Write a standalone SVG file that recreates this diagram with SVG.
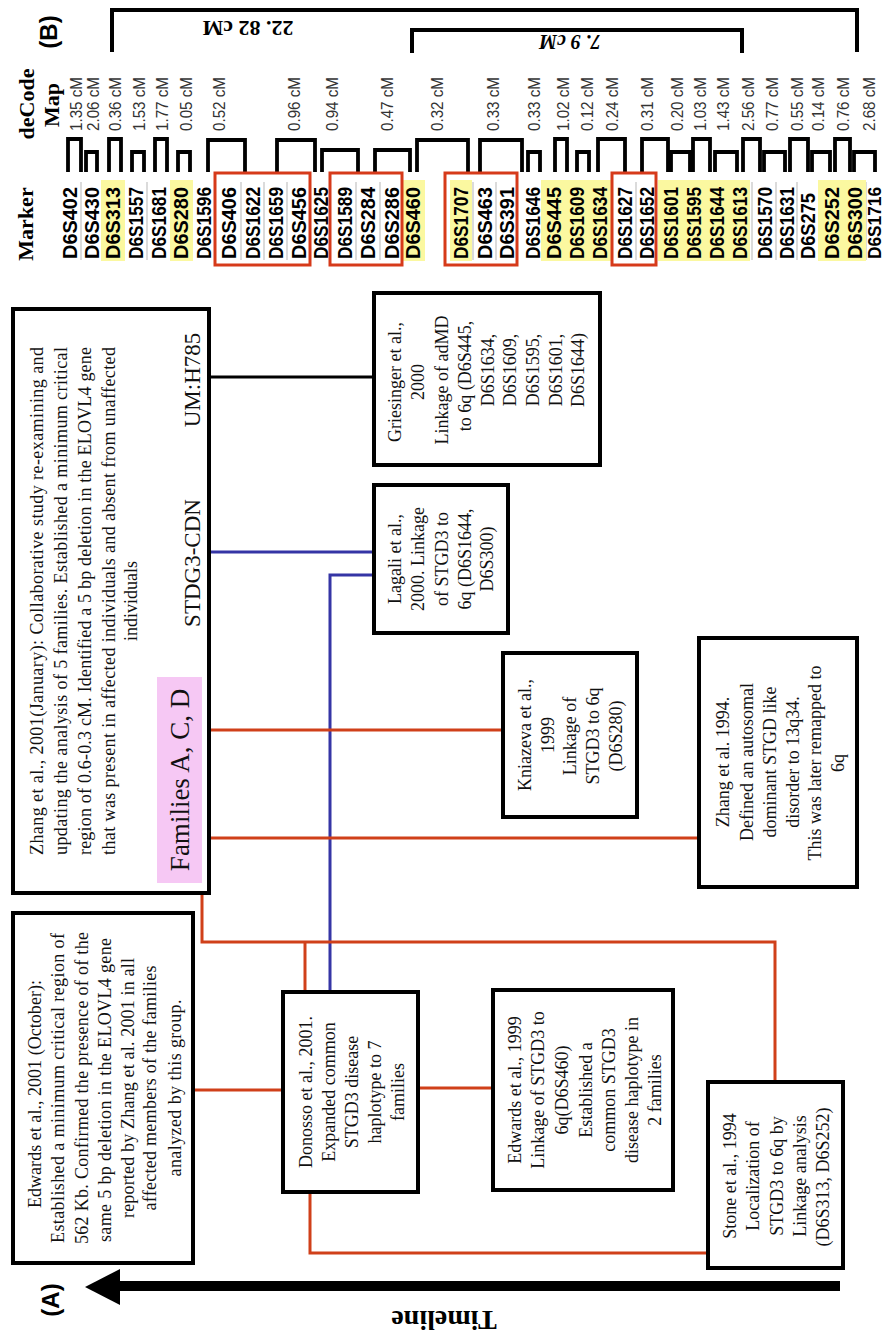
<svg xmlns="http://www.w3.org/2000/svg" width="885" height="1339" viewBox="0 0 885 1339">
<style>
.box{fill:#fff;stroke:#000;stroke-width:4}
.t{font-family:"Liberation Serif","Times New Roman",serif;font-size:18px;fill:#111;text-anchor:middle;dominant-baseline:central}
.big{font-family:"Liberation Serif","Times New Roman",serif;font-size:23px;fill:#111;text-anchor:middle;dominant-baseline:central}
.hd{font-family:"Liberation Serif","Times New Roman",serif;font-weight:bold;font-size:22px;fill:#000;text-anchor:middle;dominant-baseline:central}
.lab{font-family:"Liberation Sans",Arial,sans-serif;font-weight:bold;font-size:24px;fill:#000;text-anchor:middle;dominant-baseline:central}
.mk{font-family:"Liberation Sans Narrow","Liberation Sans",Arial,sans-serif;font-weight:bold;font-size:20px;fill:#000;dominant-baseline:central}
.cm{font-family:"Liberation Sans Narrow","Liberation Sans",Arial,sans-serif;font-size:16px;fill:#333;dominant-baseline:central}
.red{stroke:#d0401a;stroke-width:3;fill:none}
.blue{stroke:#3535a5;stroke-width:3;fill:none}
.blk{stroke:#000;stroke-width:3;fill:none}
.bump{stroke:#000;stroke-width:3.8;fill:none}
.brk{stroke:#000;stroke-width:4;fill:none}
.hl{fill:#fbf8a0}
.rb{fill:none;stroke:#d63a1a;stroke-width:3}
.sep{stroke:#c4c4c4;stroke-width:1.2}
</style>
<rect width="885" height="1339" fill="#fff"/>

<g id="header">
<text class="lab" transform="translate(48,32) rotate(-90)">(B)</text>
<text class="hd" transform="translate(26,104) rotate(-90)">deCode</text>
<text class="hd" transform="translate(51,105) rotate(-90)">Map</text>
<text class="hd" transform="translate(25,224) rotate(-90)">Marker</text>
<path class="brk" d="M112 52V10H857V52"/>
<path class="brk" d="M412 53V30H742V53"/>
<text class="hd" transform="translate(248,28) rotate(180)">22. 82 cM</text>
<text class="hd" style="font-style:italic;font-size:20px" transform="translate(570,42) rotate(180)">7. 9 cM</text>
</g>

<g id="decode-map">
<g id="separators">
<path class="sep" d="M81 182V260M102 182V260M147 182V260M192 182V260M241 182V260M264 182V260M287 182V260M356 182V260M380 182V260M473 182V260M496 182V260M543 182V260M636 182V260M752 182V260M776 182V260M797 182V260M866 182V260"/>
</g>
<g id="highlights">
<rect class="hl" x="101" y="180" width="24" height="81"/>
<rect class="hl" x="170" y="180" width="23" height="81"/>
<rect class="hl" x="402" y="180" width="23" height="81"/>
<rect class="hl" x="450" y="180" width="22" height="81"/>
<rect class="hl" x="541" y="180" width="71" height="81"/>
<rect class="hl" x="658" y="180" width="92" height="81"/>
<rect class="hl" x="818" y="180" width="48" height="81"/>
</g>
<path class="bump" d="M68 172V139H81V172M86 172V152H97V172M109 172V139H121V172M132 172V152H144V172M155 172V139H167V172M178 172V152H190V172M208 172V140H245V172M277 172V140H315V172M322 172V150H358V172M375 172V150H410V172M417 172V140H468V172M480 172V140H522V172M528 172V152H540V172M555 172V139H567V172M577 172V152H589V172M598 172V139H625V172M642 172V139H668V172M671 172V152H690V172M693 172V139H710V172M715 172V152H737V172M743 172V139H760V172M764 172V152H785V172M790 172V139H808V172M812 172V152H830V172M835 172V139H850V172M854 172V152H875V172"/>
<g id="cm-labels">
<text class="cm" textLength="54" lengthAdjust="spacingAndGlyphs" transform="translate(76,131) rotate(-90)">1.35 cM</text>
<text class="cm" textLength="54" lengthAdjust="spacingAndGlyphs" transform="translate(93,131) rotate(-90)">2.06 cM</text>
<text class="cm" textLength="54" lengthAdjust="spacingAndGlyphs" transform="translate(115,131) rotate(-90)">0.36 cM</text>
<text class="cm" textLength="54" lengthAdjust="spacingAndGlyphs" transform="translate(139,131) rotate(-90)">1.53 cM</text>
<text class="cm" textLength="54" lengthAdjust="spacingAndGlyphs" transform="translate(162,131) rotate(-90)">1.77 cM</text>
<text class="cm" textLength="54" lengthAdjust="spacingAndGlyphs" transform="translate(186,131) rotate(-90)">0.05 cM</text>
<text class="cm" textLength="54" lengthAdjust="spacingAndGlyphs" transform="translate(219,131) rotate(-90)">0.52 cM</text>
<text class="cm" textLength="54" lengthAdjust="spacingAndGlyphs" transform="translate(294,131) rotate(-90)">0.96 cM</text>
<text class="cm" textLength="54" lengthAdjust="spacingAndGlyphs" transform="translate(332,131) rotate(-90)">0.94 cM</text>
<text class="cm" textLength="54" lengthAdjust="spacingAndGlyphs" transform="translate(387,131) rotate(-90)">0.47 cM</text>
<text class="cm" textLength="54" lengthAdjust="spacingAndGlyphs" transform="translate(437,131) rotate(-90)">0.32 cM</text>
<text class="cm" textLength="54" lengthAdjust="spacingAndGlyphs" transform="translate(493,131) rotate(-90)">0.33 cM</text>
<text class="cm" textLength="54" lengthAdjust="spacingAndGlyphs" transform="translate(534,131) rotate(-90)">0.33 cM</text>
<text class="cm" textLength="54" lengthAdjust="spacingAndGlyphs" transform="translate(563,131) rotate(-90)">1.02 cM</text>
<text class="cm" textLength="54" lengthAdjust="spacingAndGlyphs" transform="translate(587,131) rotate(-90)">0.12 cM</text>
<text class="cm" textLength="54" lengthAdjust="spacingAndGlyphs" transform="translate(612,131) rotate(-90)">0.24 cM</text>
<text class="cm" textLength="54" lengthAdjust="spacingAndGlyphs" transform="translate(647,131) rotate(-90)">0.31 cM</text>
<text class="cm" textLength="54" lengthAdjust="spacingAndGlyphs" transform="translate(677,131) rotate(-90)">0.20 cM</text>
<text class="cm" textLength="54" lengthAdjust="spacingAndGlyphs" transform="translate(700,131) rotate(-90)">1.03 cM</text>
<text class="cm" textLength="54" lengthAdjust="spacingAndGlyphs" transform="translate(723,131) rotate(-90)">1.43 cM</text>
<text class="cm" textLength="54" lengthAdjust="spacingAndGlyphs" transform="translate(748,131) rotate(-90)">2.56 cM</text>
<text class="cm" textLength="54" lengthAdjust="spacingAndGlyphs" transform="translate(772,131) rotate(-90)">0.77 cM</text>
<text class="cm" textLength="54" lengthAdjust="spacingAndGlyphs" transform="translate(797,131) rotate(-90)">0.55 cM</text>
<text class="cm" textLength="54" lengthAdjust="spacingAndGlyphs" transform="translate(818,131) rotate(-90)">0.14 cM</text>
<text class="cm" textLength="54" lengthAdjust="spacingAndGlyphs" transform="translate(843,131) rotate(-90)">0.76 cM</text>
<text class="cm" textLength="54" lengthAdjust="spacingAndGlyphs" transform="translate(869,131) rotate(-90)">2.68 cM</text>
</g>
<g id="markers">
<text class="mk" textLength="72" lengthAdjust="spacingAndGlyphs" transform="translate(70,259) rotate(-90)">D6S402</text>
<text class="mk" textLength="72" lengthAdjust="spacingAndGlyphs" transform="translate(92,259) rotate(-90)">D6S430</text>
<text class="mk" textLength="72" lengthAdjust="spacingAndGlyphs" transform="translate(113,259) rotate(-90)">D6S313</text>
<text class="mk" textLength="72" lengthAdjust="spacingAndGlyphs" transform="translate(136,259) rotate(-90)">D6S1557</text>
<text class="mk" textLength="72" lengthAdjust="spacingAndGlyphs" transform="translate(159,259) rotate(-90)">D6S1681</text>
<text class="mk" textLength="72" lengthAdjust="spacingAndGlyphs" transform="translate(181,259) rotate(-90)">D6S280</text>
<text class="mk" textLength="72" lengthAdjust="spacingAndGlyphs" transform="translate(204,259) rotate(-90)">D6S1596</text>
<text class="mk" textLength="72" lengthAdjust="spacingAndGlyphs" transform="translate(229,259) rotate(-90)">D6S406</text>
<text class="mk" textLength="72" lengthAdjust="spacingAndGlyphs" transform="translate(253,259) rotate(-90)">D6S1622</text>
<text class="mk" textLength="72" lengthAdjust="spacingAndGlyphs" transform="translate(276,259) rotate(-90)">D6S1659</text>
<text class="mk" textLength="72" lengthAdjust="spacingAndGlyphs" transform="translate(299,259) rotate(-90)">D6S456</text>
<text class="mk" textLength="72" lengthAdjust="spacingAndGlyphs" transform="translate(321,259) rotate(-90)">D6S1625</text>
<text class="mk" textLength="72" lengthAdjust="spacingAndGlyphs" transform="translate(345,259) rotate(-90)">D6S1589</text>
<text class="mk" textLength="72" lengthAdjust="spacingAndGlyphs" transform="translate(368,259) rotate(-90)">D6S284</text>
<text class="mk" textLength="72" lengthAdjust="spacingAndGlyphs" transform="translate(392,259) rotate(-90)">D6S286</text>
<text class="mk" textLength="72" lengthAdjust="spacingAndGlyphs" transform="translate(413,259) rotate(-90)">D6S460</text>
<text class="mk" textLength="72" lengthAdjust="spacingAndGlyphs" transform="translate(461,259) rotate(-90)">D6S1707</text>
<text class="mk" textLength="72" lengthAdjust="spacingAndGlyphs" transform="translate(485,259) rotate(-90)">D6S463</text>
<text class="mk" textLength="72" lengthAdjust="spacingAndGlyphs" transform="translate(507,259) rotate(-90)">D6S391</text>
<text class="mk" textLength="72" lengthAdjust="spacingAndGlyphs" transform="translate(533,259) rotate(-90)">D6S1646</text>
<text class="mk" textLength="72" lengthAdjust="spacingAndGlyphs" transform="translate(554,259) rotate(-90)">D6S445</text>
<text class="mk" textLength="72" lengthAdjust="spacingAndGlyphs" transform="translate(577,259) rotate(-90)">D6S1609</text>
<text class="mk" textLength="72" lengthAdjust="spacingAndGlyphs" transform="translate(600,259) rotate(-90)">D6S1634</text>
<text class="mk" textLength="72" lengthAdjust="spacingAndGlyphs" transform="translate(625,259) rotate(-90)">D6S1627</text>
<text class="mk" textLength="72" lengthAdjust="spacingAndGlyphs" transform="translate(647,259) rotate(-90)">D6S1652</text>
<text class="mk" textLength="72" lengthAdjust="spacingAndGlyphs" transform="translate(671,259) rotate(-90)">D6S1601</text>
<text class="mk" textLength="72" lengthAdjust="spacingAndGlyphs" transform="translate(694,259) rotate(-90)">D6S1595</text>
<text class="mk" textLength="72" lengthAdjust="spacingAndGlyphs" transform="translate(717,259) rotate(-90)">D6S1644</text>
<text class="mk" textLength="72" lengthAdjust="spacingAndGlyphs" transform="translate(740,259) rotate(-90)">D6S1613</text>
<text class="mk" textLength="72" lengthAdjust="spacingAndGlyphs" transform="translate(765,259) rotate(-90)">D6S1570</text>
<text class="mk" textLength="72" lengthAdjust="spacingAndGlyphs" transform="translate(787,259) rotate(-90)">D6S1631</text>
<text class="mk" textLength="66" lengthAdjust="spacingAndGlyphs" transform="translate(808,259) rotate(-90)">D6S275</text>
<text class="mk" textLength="72" lengthAdjust="spacingAndGlyphs" transform="translate(832,259) rotate(-90)">D6S252</text>
<text class="mk" textLength="72" lengthAdjust="spacingAndGlyphs" transform="translate(855,259) rotate(-90)">D6S300</text>
<text class="mk" style="font-size:18px" textLength="72" lengthAdjust="spacingAndGlyphs" transform="translate(875,259) rotate(-90)">D6S1716</text>
</g>
<g id="marker-groups">
<rect class="rb" x="215" y="173" width="95" height="92"/>
<rect class="rb" x="330" y="173" width="72" height="92"/>
<rect class="rb" x="445" y="173" width="72" height="92"/>
<rect class="rb" x="612" y="173" width="44" height="92"/>
</g>
</g>

<g id="connectors">
<path class="blk" d="M209 377H374"/>
<path class="blue" d="M209 552H374"/>
<path class="blue" d="M374 575H330V992"/>
<path class="red" d="M209 730H503"/>
<path class="red" d="M209 838H699"/>
<path class="red" d="M202 893V942H775V1082"/>
<path class="red" d="M305 942V992"/>
<path class="red" d="M193 1090H283"/>
<path class="red" d="M418 1088H493"/>
<path class="red" d="M310 1192V1253H708"/>
</g>

<g id="zhang2001">
<rect class="box" x="13" y="309" width="196" height="584"/>
<rect x="157" y="677" width="45" height="206" fill="#f6c8f4"/>
<text class="t" textLength="508" transform="translate(37,601) rotate(-90)">Zhang et al., 2001(January): Collaborative study re-examining and</text>
<text class="t" textLength="508" transform="translate(61,601) rotate(-90)">updating the analysis of 5 families. Established a minimum critical</text>
<text class="t" textLength="508" transform="translate(85,601) rotate(-90)">region of 0.6-0.3 cM. Identified a 5 bp deletion in the ELOVL4 gene</text>
<text class="t" textLength="508" transform="translate(109,601) rotate(-90)">that was present in affected individuals and absent from unaffected</text>
<text class="t" transform="translate(131,601) rotate(-90)">individuals</text>
<text class="big" style="font-size:27px" transform="translate(180,780) rotate(-90)">Families A, C, D</text>
<text class="big" transform="translate(192,563) rotate(-90)">STDG3-CDN</text>
<text class="big" transform="translate(192,380) rotate(-90)">UM:H785</text>
</g>

<g id="griesinger2000">
<rect class="box" x="374" y="293" width="226" height="172"/>
<text class="t" transform="translate(395,382) rotate(-90)">Griesinger et al.,</text>
<text class="t" transform="translate(418,382) rotate(-90)">2000</text>
<text class="t" transform="translate(442,380) rotate(-90)">Linkage of adMD</text>
<text class="t" transform="translate(465,376) rotate(-90)">to 6q (D6S445,</text>
<text class="t" transform="translate(488,370) rotate(-90)">D6S1634,</text>
<text class="t" transform="translate(510,370) rotate(-90)">D6S1609,</text>
<text class="t" transform="translate(533,370) rotate(-90)">D6S1595,</text>
<text class="t" transform="translate(556,370) rotate(-90)">D6S1601,</text>
<text class="t" transform="translate(578,370) rotate(-90)">D6S1644)</text>
</g>

<g id="lagali2000">
<rect class="box" x="374" y="485" width="134" height="148"/>
<text class="t" transform="translate(395,559) rotate(-90)">Lagali et al.,</text>
<text class="t" transform="translate(418,559) rotate(-90)">2000. Linkage</text>
<text class="t" transform="translate(442,559) rotate(-90)">of STGD3 to</text>
<text class="t" transform="translate(465,559) rotate(-90)">6q (D6S1644,</text>
<text class="t" transform="translate(487,559) rotate(-90)">D6S300)</text>
</g>

<g id="kniazeva1999">
<rect class="box" x="503" y="653" width="134" height="164"/>
<text class="t" transform="translate(525,735) rotate(-90)">Kniazeva et al.,</text>
<text class="t" transform="translate(548,735) rotate(-90)">1999</text>
<text class="t" transform="translate(570,736) rotate(-90)">Linkage of</text>
<text class="t" transform="translate(593,736) rotate(-90)">STGD3 to 6q</text>
<text class="t" transform="translate(616,736) rotate(-90)">(D6S280)</text>
</g>

<g id="zhang1994">
<rect class="box" x="699" y="638" width="158" height="249"/>
<text class="t" transform="translate(723,762) rotate(-90)">Zhang et al. 1994.</text>
<text class="t" transform="translate(747,762) rotate(-90)">Defined an autosomal</text>
<text class="t" transform="translate(770,762) rotate(-90)">dominant STGD like</text>
<text class="t" transform="translate(793,762) rotate(-90)">disorder to 13q34.</text>
<text class="t" transform="translate(815,763) rotate(-90)">This was later remapped to</text>
<text class="t" transform="translate(838,763) rotate(-90)">6q</text>
</g>

<g id="edwards2001">
<rect class="box" x="13" y="913" width="180" height="350"/>
<text class="t" textLength="228" transform="translate(35,1094) rotate(-90)">Edwards et al., 2001 (October):</text>
<text class="t" textLength="310" transform="translate(58,1088) rotate(-90)">Established a minimum critical region of</text>
<text class="t" textLength="312" transform="translate(82,1088) rotate(-90)">562 Kb. Confirmed the presence of of the</text>
<text class="t" textLength="304" transform="translate(105,1090) rotate(-90)">same 5 bp deletion in the ELOVL4 gene</text>
<text class="t" textLength="260" transform="translate(128,1088) rotate(-90)">reported by Zhang et al. 2001 in all</text>
<text class="t" textLength="245" transform="translate(150,1088) rotate(-90)">affected members of the families</text>
<text class="t" textLength="177" transform="translate(175,1088) rotate(-90)">analyzed by this group.</text>
</g>

<g id="donosso2001">
<rect class="box" x="283" y="992" width="135" height="200"/>
<text class="t" transform="translate(306,1092) rotate(-90)">Donosso et al., 2001.</text>
<text class="t" transform="translate(329,1092) rotate(-90)">Expanded common</text>
<text class="t" transform="translate(352,1092) rotate(-90)">STGD3 disease</text>
<text class="t" transform="translate(375,1092) rotate(-90)">haplotype to 7</text>
<text class="t" transform="translate(398,1092) rotate(-90)">families</text>
</g>

<g id="edwards1999">
<rect class="box" x="493" y="990" width="180" height="200"/>
<text class="t" transform="translate(515,1090) rotate(-90)">Edwards et al., 1999</text>
<text class="t" transform="translate(538,1090) rotate(-90)">Linkage of STGD3 to</text>
<text class="t" transform="translate(562,1090) rotate(-90)">6q(D6S460)</text>
<text class="t" transform="translate(586,1090) rotate(-90)">Established a</text>
<text class="t" transform="translate(609,1090) rotate(-90)">common STGD3</text>
<text class="t" transform="translate(632,1090) rotate(-90)">disease haplotype in</text>
<text class="t" transform="translate(655,1090) rotate(-90)">2 families</text>
</g>

<g id="stone1994">
<rect class="box" x="708" y="1082" width="135" height="186"/>
<text class="t" transform="translate(730,1176) rotate(-90)">Stone et al., 1994</text>
<text class="t" transform="translate(753,1176) rotate(-90)">Localization of</text>
<text class="t" transform="translate(777,1176) rotate(-90)">STGD3 to 6q by</text>
<text class="t" transform="translate(800,1176) rotate(-90)">Linkage analysis</text>
<text class="t" transform="translate(823,1177) rotate(-90)">(D6S313, D6S252)</text>
</g>

<g id="timeline">
<path d="M115 1286H840" stroke="#000" stroke-width="10" fill="none"/>
<polygon points="85,1287 120,1269 120,1305" fill="#000"/>
<text class="lab" transform="translate(50,1300) rotate(-90)">(A)</text>
<text class="hd" style="font-size:28px" transform="translate(444,1320) rotate(180)">Timeline</text>
</g>
</svg>
